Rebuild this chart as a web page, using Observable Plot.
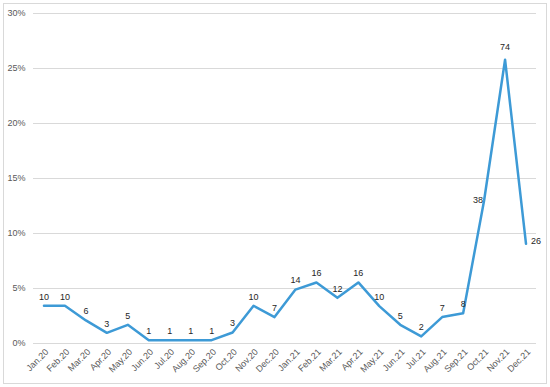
<!DOCTYPE html>
<html>
<head>
<meta charset="utf-8">
<script src="https://cdn.jsdelivr.net/npm/d3@7"></script>
<script src="https://cdn.jsdelivr.net/npm/@observablehq/plot@0.6"></script>
<style>
  html, body { margin: 0; padding: 0; background: #fff; }
  #wrap { position: relative; width: 550px; height: 387px; }
  #border { position: absolute; left: 3px; top: 3px; width: 542px; height: 379px; border: 1px solid #d9d9d9; pointer-events: none; }
  svg { font-family: "Liberation Sans", Arial, sans-serif; }
</style>
</head>
<body>
<div id="wrap"><div id="border"></div></div>
<script>
const months = ["Jan.20","Feb.20","Mar.20","Apr.20","May.20","Jun.20","Jul.20","Aug.20","Sep.20","Oct.20","Nov.20","Dec.20",
                "Jan.21","Feb.21","Mar.21","Apr.21","May.21","Jun.21","Jul.21","Aug.21","Sep.21","Oct.21","Nov.21","Dec.21"];
const shares = [3.43,3.43,2.1,0.97,1.7,0.3,0.3,0.3,0.3,1.0,3.43,2.4,
                4.9,5.55,4.15,5.55,3.4,1.7,0.65,2.4,2.75,13.0,25.8,9.06];
const counts = [10,10,6,3,5,1,1,1,1,3,10,7,14,16,12,16,10,5,2,7,8,38,74,26];
const yTicks = [0,0.05,0.10,0.15,0.20,0.25,0.30];

const data = months.map((m, i) => ({month: m, share: shares[i] / 100, count: counts[i]}));
const leftLabel = new Set(["Oct.21"]);
const rightLabel = new Set(["Dec.21"]);
const topLabel = new Set(["Nov.21"]);

const chart = Plot.plot({
  width: 550,
  height: 387,
  marginLeft: 33,
  marginRight: 14,
  marginTop: 13,
  marginBottom: 44,
  style: {fontSize: "9px", fontFamily: "'Liberation Sans', Arial, sans-serif", background: "transparent"},
  x: {type: "point", domain: months, padding: 0.5, round: false, label: null},
  y: {domain: [0, 0.30], label: null},
  marks: [
    Plot.gridY(yTicks, {stroke: "#d9d9d9", strokeOpacity: 1, strokeWidth: 1}),
    Plot.axisY(yTicks, {tickFormat: d3.format(".0%"), tickSize: 0, tickPadding: 8, fill: "#595959", label: null}),
    Plot.axisX({tickRotate: -45, tickSize: 0, tickPadding: 7, dx: 3, fill: "#595959", label: null}),
    Plot.line(data, {x: "month", y: "share", stroke: "#3d9ad6", strokeWidth: 2.5, curve: "linear"}),
    Plot.text(data.filter(d => !leftLabel.has(d.month) && !rightLabel.has(d.month) && !topLabel.has(d.month)),
      {x: "month", y: "share", text: "count", dy: -9, fill: "#262626"}),
    Plot.text(data.filter(d => topLabel.has(d.month)),
      {x: "month", y: "share", text: "count", dy: -13, fill: "#262626"}),
    Plot.text(data.filter(d => leftLabel.has(d.month)),
      {x: "month", y: "share", text: "count", dx: -1, textAnchor: "end", fill: "#262626"}),
    Plot.text(data.filter(d => rightLabel.has(d.month)),
      {x: "month", y: "share", text: "count", dx: 5, dy: -3, textAnchor: "start", fill: "#262626"})
  ]
});
document.getElementById("wrap").prepend(chart);
</script>
</body>
</html>
